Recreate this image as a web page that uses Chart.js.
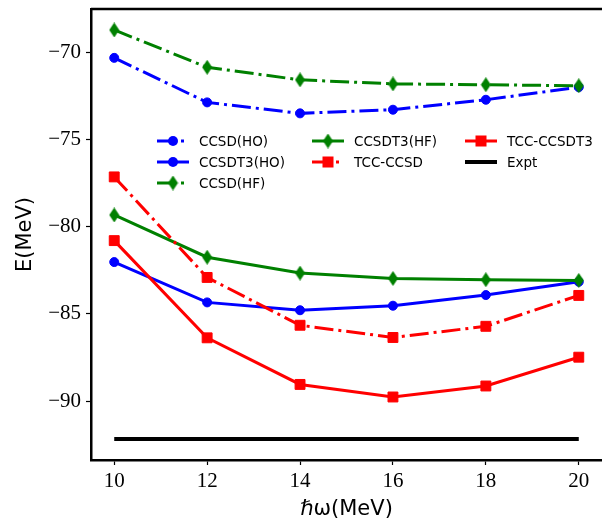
<!DOCTYPE html>
<html>
<head>
<meta charset="utf-8">
<script src="https://cdn.jsdelivr.net/npm/chart.js@4.4.0/dist/chart.umd.min.js"></script>
<style>
  html, body { margin: 0; padding: 0; background: #fff; }
  canvas { display: block; }
</style>
</head>
<body>
<canvas id="myChart" width="602" height="522"></canvas>
<script>
// hbar*omega values (MeV)
var hw = [10, 12, 14, 16, 18, 20];
var ccsdHO    = [-70.33, -72.88, -73.51, -73.30, -72.73, -72.01];
var ccsdt3HO  = [-82.03, -84.34, -84.79, -84.53, -83.92, -83.16];
var ccsdHF    = [-68.73, -70.87, -71.59, -71.82, -71.87, -71.93];
var ccsdt3HF  = [-79.33, -81.75, -82.66, -82.97, -83.04, -83.08];
var tccCcsd   = [-77.15, -82.91, -85.65, -86.35, -85.71, -83.94];
var tccCcsdt3 = [-80.80, -86.37, -89.04, -89.76, -89.13, -87.48];
var exptX = [10, 20];
var exptE = [-92.17, -92.17];

var labels = ['CCSD(HO)', 'CCSDT3(HO)', 'CCSD(HF)', 'CCSDT3(HF)', 'TCC-CCSD', 'TCC-CCSDT3', 'Expt'];
var xTicks = [10, 12, 14, 16, 18, 20];
var yTicks = [-90, -85, -80, -75, -70];

const DASHDOT = [19, 5, 3, 5];
const BLUE = '#0000ff', GREEN = '#008000', RED = '#ff0000';

// thin diamond marker like matplotlib 'd'
function thinDiamond(color) {
  var c = document.createElement('canvas');
  c.width = 11; c.height = 15;
  var g = c.getContext('2d');
  g.fillStyle = color;
  g.beginPath();
  g.moveTo(5.5, 0); g.lineTo(10.5, 7.5); g.lineTo(5.5, 15); g.lineTo(0.5, 7.5);
  g.closePath();
  g.fill();
  return c;
}
var diamond = thinDiamond(GREEN);

function pts(xs, ys) {
  return xs.map((x, i) => ({x: x, y: ys[i]}));
}

function series(label, xs, ys, color, style, dash, order) {
  var r = style === 'circle' ? 4.5 : (style === 'rect' ? 7 : 6);
  return {
    label: label,
    data: pts(xs, ys),
    borderColor: color,
    backgroundColor: color,
    pointBackgroundColor: color,
    pointBorderColor: color,
    pointBorderWidth: 1,
    pointStyle: style,
    pointRadius: style ? r : 0,
    borderWidth: 3,
    borderDash: dash,
    tension: 0,
    order: order
  };
}

var datasets = [
  series(labels[0], hw, ccsdHO, BLUE, 'circle', DASHDOT, 6),
  series(labels[1], hw, ccsdt3HO, BLUE, 'circle', [], 5),
  series(labels[2], hw, ccsdHF, GREEN, diamond, DASHDOT, 4),
  series(labels[3], hw, ccsdt3HF, GREEN, diamond, [], 3),
  series(labels[4], hw, tccCcsd, RED, 'rect', DASHDOT, 2),
  series(labels[5], hw, tccCcsdt3, RED, 'rect', [], 1),
  series(labels[6], exptX, exptE, '#000000', false, [], 0)
];
datasets[6].borderWidth = 4;

// matplotlib-style legend: 3 columns, filled column by column
const legendBox = {
  id: 'legendBox',
  afterDatasetsDraw(chart) {
    var ctx = chart.ctx;
    var colX = [157, 312, 465], rowY = [141, 162, 183];
    ctx.save();
    chart.data.datasets.forEach((ds, i) => {
      var col = Math.floor(i / 3), row = i % 3;
      if (i >= 3) { col = 1 + Math.floor((i - 3) / 2); row = (i - 3) % 2; }
      var x0 = colX[col], y = rowY[row];
      ctx.strokeStyle = ds.borderColor;
      ctx.lineWidth = ds.borderWidth;
      ctx.setLineDash(ds.borderDash);
      ctx.beginPath();
      ctx.moveTo(x0, y); ctx.lineTo(x0 + 32, y);
      ctx.stroke();
      ctx.setLineDash([]);
      var cx = x0 + 16;
      ctx.fillStyle = ds.borderColor;
      if (ds.pointStyle === 'circle') {
        ctx.beginPath(); ctx.arc(cx, y, 5, 0, Math.PI * 2); ctx.fill();
      } else if (ds.pointStyle === 'rect') {
        ctx.fillRect(cx - 5.5, y - 5.5, 11, 11);
      } else if (ds.pointStyle) {
        ctx.drawImage(ds.pointStyle, cx - 5.5, y - 7.5);
      }
      ctx.fillStyle = '#000';
      ctx.font = '13.5px "DejaVu Sans"';
      ctx.textBaseline = 'middle';
      ctx.fillText(ds.label, x0 + 42, y + 1);
    });
    ctx.restore();
  }
};

// top frame line
const frame = {
  id: 'frame',
  afterDraw(chart) {
    var a = chart.chartArea, ctx = chart.ctx;
    ctx.save();
    ctx.strokeStyle = '#000';
    ctx.lineWidth = 2.5;
    ctx.beginPath();
    ctx.moveTo(a.left, a.top); ctx.lineTo(a.right + 2, a.top);
    ctx.stroke();
    ctx.restore();
  }
};

var minus = v => String(v).replace('-', '\u2212');

new Chart(document.getElementById('myChart'), {
  type: 'line',
  data: { datasets: datasets },
  plugins: [legendBox, frame],
  options: {
    responsive: false,
    animation: false,
    events: [],
    layout: { autoPadding: false, padding: { top: 9, right: 0, left: 0, bottom: 0 } },
    plugins: { legend: { display: false }, tooltip: { enabled: false } },
    scales: {
      x: {
        type: 'linear',
        min: 9.5, max: 20.5,
        afterBuildTicks: s => { s.ticks = xTicks.map(v => ({value: v})); },
        afterFit: s => { s.height = 62; s.paddingLeft = 0; s.paddingRight = 0; },
        grid: { drawOnChartArea: false, drawTicks: true, tickLength: 5, tickColor: '#000', tickWidth: 1.2 },
        border: { display: true, color: '#000', width: 2.5 },
        ticks: { color: '#000', padding: 4, maxRotation: 0, font: { family: '"Liberation Serif"', size: 21 } },
        title: { display: true, text: 'ℏω(MeV)', color: '#000', padding: 0,
                 font: { family: '"DejaVu Sans"', size: 21 } }
      },
      y: {
        type: 'linear',
        min: -93.37, max: -67.53,
        afterBuildTicks: s => { s.ticks = yTicks.map(v => ({value: v})); },
        afterFit: s => { s.width = 91; s.paddingTop = 0; s.paddingBottom = 0; },
        grid: { drawOnChartArea: false, drawTicks: true, tickLength: 5, tickColor: '#000', tickWidth: 1.2 },
        border: { display: true, color: '#000', width: 2.5 },
        ticks: { color: '#000', padding: 5, callback: v => minus(v), font: { family: '"Liberation Serif"', size: 21 } },
        title: { display: true, text: 'E(MeV)', color: '#000', padding: { top: 13, bottom: 0 },
                 font: { family: '"DejaVu Sans"', size: 21 } }
      }
    }
  }
});
</script>
</body>
</html>
